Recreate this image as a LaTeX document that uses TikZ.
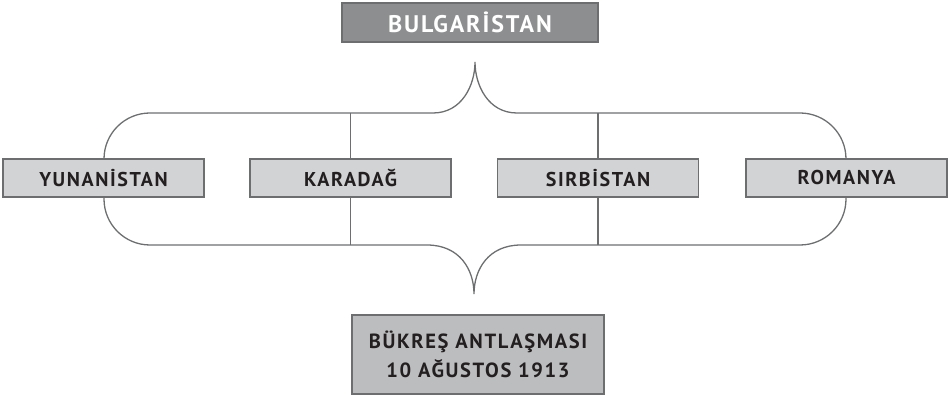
\documentclass[tikz,border=0pt]{standalone}
\usepackage{fontspec}
\setmainfont{PT Sans}[LetterSpace=8]
\usetikzlibrary{calc}
\definecolor{linegray}{HTML}{6D6E70}
\definecolor{topgray}{HTML}{8D8E90}
\definecolor{boxgray}{HTML}{D2D3D5}
\definecolor{basegray}{HTML}{BCBDBF}
\definecolor{textdark}{HTML}{231F20}
\tikzset{country/.style={draw=linegray, line width=1.2, fill=boxgray, minimum width=201, minimum height=38, inner sep=0, text=textdark, font=\bfseries\fontsize{20}{24}\selectfont}}

\begin{document}
\begin{tikzpicture}[x=1pt,y=1pt]
\useasboundingbox (0,0) rectangle (950,398);
\coordinate (top) at (475,285);
\coordinate (bottom) at (474,153);
\draw[linegray, line width=1.3] (433,285) -- (150,285) arc[start angle=90, end angle=180, radius=46] -- (104,199) arc[start angle=180, end angle=270, radius=46] -- (427,153) .. controls (460,153) and (474,128) .. (474,104) .. controls (474,128) and (488,153) .. (521,153) -- (800,153) arc[start angle=-90, end angle=0, radius=46] -- (846,239) arc[start angle=0, end angle=90, radius=46] -- (517,285) .. controls (488,285) and (475,313) .. (475,336) .. controls (475,313) and (462,285) .. (433,285) -- cycle;
\node[country] (yun) at (103.5,220) {YUNANİSTAN};
\node[country] (kar) at (350.5,220) {KARADAĞ};
\node[country] (sir) at (598,220) {SIRBİSTAN};
\node[country] (rom) at (846.5,220) {ROMANYA};
\foreach \c in {kar,sir} {
 \draw[linegray, line width=1.3] (\c.north) -- (\c.north |- top);
 \draw[linegray, line width=1.3] (\c.south) -- (\c.south |- bottom);
}
\node[country, fill=topgray, minimum width=256, minimum height=39, text=white, font=\bfseries\fontsize{24}{28}\selectfont] (bul) at (470,375.5) {BULGARİSTAN};
\node[country, fill=basegray, minimum width=252, minimum height=79, align=center, font=\bfseries\fontsize{20.5}{29}\selectfont] (buk) at (478,43.5) {BÜKREŞ ANTLAŞMASI\\10 AĞUSTOS 1913};
\end{tikzpicture}
\end{document}
